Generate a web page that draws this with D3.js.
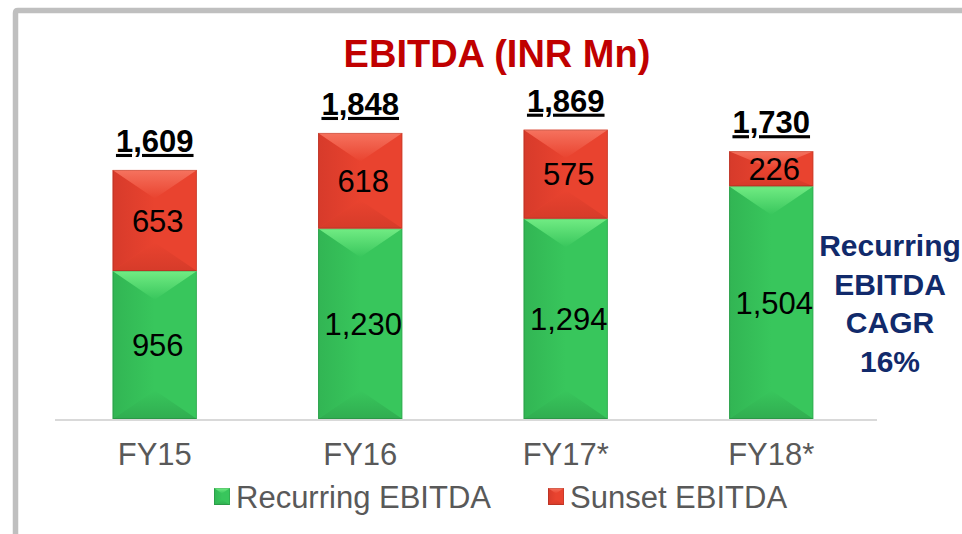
<!DOCTYPE html>
<html>
<head>
<meta charset="utf-8">
<script src="https://cdn.jsdelivr.net/npm/d3@7"></script>
<style>
  html, body { margin: 0; padding: 0; background: #fff; }
  svg { display: block; font-family: Arial, "Liberation Sans", sans-serif; }
</style>
</head>
<body>
<div id="root"></div>
<script>
const years = ["FY15", "FY16", "FY17*", "FY18*"];
const recurring = [956, 1230, 1294, 1504];
const sunset = [653, 618, 575, 226];
const totals = [1609, 1848, 1869, 1730];
const seriesNames = ["Recurring EBITDA", "Sunset EBITDA"];
const noteLines = ["Recurring", "EBITDA", "CAGR", "16%"];

const width = 962,
  height = 534;

const palette = {
  "Recurring EBITDA": { base: "#38c65c", light: "#78f088", dark: "#2b9c48", side: "#2fae50" },
  "Sunset EBITDA": { base: "#e9432f", light: "#f77864", dark: "#c93626", side: "#cf3729" },
};

const svg = d3
  .select("#root")
  .append("svg")
  .attr("width", width)
  .attr("height", height)
  .attr("viewBox", [0, 0, width, height]);

// gray frame
svg
  .append("path")
  .attr("d", `M15.5,${height + 5} L15.5,13 Q15.5,10.5 18,10.5 L${width + 5},10.5`)
  .attr("fill", "none")
  .attr("stroke", "#bfbfbf")
  .attr("stroke-width", 5.5);

const x = d3.scaleBand().domain(years).range([52, 874]).paddingInner(0.59).paddingOuter(0.295);
const y = d3.scaleLinear().domain([0, 2000]).range([419, 109.4]);

// gradients for the facets
const defs = svg.append("defs");
seriesNames.forEach((name, i) => {
  const top = defs
    .append("linearGradient")
    .attr("id", "topgrad" + i)
    .attr("x1", 0).attr("y1", 0).attr("x2", 0).attr("y2", 1);
  top.append("stop").attr("offset", "0%").attr("stop-color", palette[name].light);
  top.append("stop").attr("offset", "100%").attr("stop-color", palette[name].base);

  const side = defs
    .append("linearGradient")
    .attr("id", "sidegrad" + i)
    .attr("x1", 0).attr("y1", 0).attr("x2", 1).attr("y2", 0);
  side.append("stop").attr("offset", "0%").attr("stop-color", palette[name].side);
  side.append("stop").attr("offset", "100%").attr("stop-color", palette[name].base);

  const bot = defs
    .append("linearGradient")
    .attr("id", "botgrad" + i)
    .attr("x1", 0).attr("y1", 0).attr("x2", 0).attr("y2", 1);
  bot.append("stop").attr("offset", "0%").attr("stop-color", palette[name].base);
  bot.append("stop").attr("offset", "100%").attr("stop-color", palette[name].dark);
});

// stacked data
const rows = years.map((yr, i) => ({ year: yr, "Recurring EBITDA": recurring[i], "Sunset EBITDA": sunset[i] }));
const stacked = d3.stack().keys(seriesNames)(rows);

function bevel(g, x0, y0, w, h, name, idx) {
  const x1 = x0 + w, y1 = y0 + h, cx = x0 + w / 2;
  const d = Math.min(w * 0.34, h / 2);
  g.append("rect").attr("x", x0).attr("y", y0).attr("width", w).attr("height", h).attr("fill", palette[name].base);
  g.append("polygon")
    .attr("points", [[x0, y0], [cx, y0 + d], [cx, y1 - d], [x0, y1]].join(" "))
    .attr("fill", `url(#sidegrad${idx})`)
    .attr("opacity", 0.7);
  g.append("polygon")
    .attr("points", [[x0, y1], [x1, y1], [cx, y1 - d]].join(" "))
    .attr("fill", `url(#botgrad${idx})`)
    .attr("opacity", 0.6);
  g.append("polygon")
    .attr("points", [[x0, y0], [x1, y0], [cx, y0 + d]].join(" "))
    .attr("fill", `url(#topgrad${idx})`)
    .attr("opacity", 0.9);
  g.append("rect")
    .attr("x", x0 + 0.5).attr("y", y0 + 0.5).attr("width", w - 1).attr("height", h - 1)
    .attr("fill", "none").attr("stroke", "rgba(0,0,0,0.12)");
}

// baseline
svg
  .append("line")
  .attr("x1", 55).attr("x2", 877)
  .attr("y1", y(0) + 1).attr("y2", y(0) + 1)
  .attr("stroke", "#d9d9d9").attr("stroke-width", 2);

const bars = svg.append("g").attr("id", "bars");
stacked.forEach((layer, si) => {
  layer.forEach((d) => {
    const g = bars.append("g");
    const x0 = x(d.data.year);
    const top = y(d[1]), bot = y(d[0]);
    bevel(g, x0, top, x.bandwidth(), bot - top, layer.key, si);
    g.append("text")
      .attr("x", x0 + x.bandwidth() / 2 + 3)
      .attr("y", (top + bot) / 2)
      .attr("dy", "0.36em")
      .attr("text-anchor", "middle")
      .attr("font-size", 31)
      .attr("fill", "#000")
      .text(d3.format(",")(d[1] - d[0]));
  });
});

// totals
svg
  .append("g")
  .selectAll("text")
  .data(years)
  .join("text")
  .attr("x", (d) => x(d) + x.bandwidth() / 2)
  .attr("y", (d, i) => y(totals[i]) - 18)
  .attr("text-anchor", "middle")
  .attr("font-size", 31)
  .attr("font-weight", "bold")
  .attr("text-decoration", "underline")
  .attr("fill", "#000")
  .text((d, i) => d3.format(",")(totals[i]));

// x axis labels
const xAxis = d3.axisBottom(x).tickSize(0).tickPadding(24);
const axisG = svg.append("g").attr("transform", `translate(0, ${y(0)})`).call(xAxis);
axisG.select(".domain").remove();
axisG.selectAll("text").attr("font-size", 31).attr("fill", "#595959").attr("font-family", "Arial, 'Liberation Sans', sans-serif");

// title
svg
  .append("text")
  .attr("x", 497)
  .attr("y", 67)
  .attr("text-anchor", "middle")
  .attr("font-size", 38)
  .attr("font-weight", "bold")
  .attr("fill", "#c00000")
  .text("EBITDA (INR Mn)");

// CAGR note
svg
  .append("g")
  .selectAll("text")
  .data(noteLines)
  .join("text")
  .attr("x", 890)
  .attr("y", (d, i) => 256 + i * 38.5)
  .attr("text-anchor", "middle")
  .attr("font-size", 30)
  .attr("font-weight", "bold")
  .attr("fill", "#112a6b")
  .text((d) => d);

// legend
const legendX = [214, 548];
const legend = svg
  .append("g")
  .selectAll("g")
  .data(seriesNames)
  .join("g")
  .attr("transform", (d, i) => `translate(${legendX[i]}, 488)`);
legend.each(function (d, i) {
  bevel(d3.select(this), 0, 0, 16, 17, d, i);
});
legend
  .append("text")
  .attr("x", 22)
  .attr("y", 9)
  .attr("dy", "0.36em")
  .attr("font-size", 31)
  .attr("fill", "#595959")
  .text((d) => d);
</script>
</body>
</html>
